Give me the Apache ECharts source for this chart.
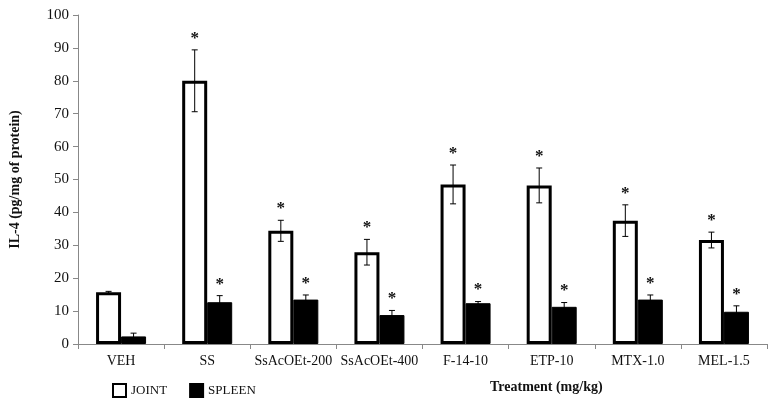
<!DOCTYPE html>
<html><head><meta charset="utf-8">
<script src="https://cdn.jsdelivr.net/npm/echarts@6/dist/echarts.min.js"></script>
<style>html,body{margin:0;padding:0;background:#fff}#c{width:775px;height:405px}</style>
</head><body><div id="c"></div>
<script>
const categories = ['VEH','SS','SsAcOEt-200','SsAcOEt-400','F-14-10','ETP-10','MTX-1.0','MEL-1.5'];
const joint = [15.7, 80.0, 34.4, 27.9, 48.5, 48.2, 37.5, 31.6];
const jointErr = [0.3, 9.4, 3.2, 3.9, 5.9, 5.3, 4.8, 2.4];
const spleen = [2.3, 12.7, 13.5, 8.8, 12.4, 11.3, 13.5, 9.8];
const spleenErr = [1.0, 2.0, 1.4, 1.4, 0.5, 1.3, 1.4, 1.8];
const jointSig = [false, true, true, true, true, true, true, true];
const spleenSig = [false, true, true, true, true, true, true, true];
const yTicks = [0,10,20,30,40,50,60,70,80,90,100];

const BW = 25;
const font = 'Liberation Serif';
function errSeries(vals, errs, sig, offset) {
  return {
    type: 'custom', silent: true, z: 5,
    data: vals.map((v, i) => [i, v, errs[i], sig[i] ? 1 : 0]),
    renderItem: function (params, api) {
      const i = api.value(0), v = api.value(1), e = api.value(2), s = api.value(3);
      const top = api.coord([i, v + e]);
      const bot = api.coord([i, v - e]);
      const x = top[0] + offset;
      const children = [
        {type:'line', shape:{x1:x, y1:top[1], x2:x, y2:bot[1]}, style:{stroke:'#000', lineWidth:1}},
        {type:'line', shape:{x1:x-3, y1:top[1], x2:x+3, y2:top[1]}, style:{stroke:'#000', lineWidth:1}},
        {type:'line', shape:{x1:x-3, y1:bot[1], x2:x+3, y2:bot[1]}, style:{stroke:'#000', lineWidth:1}}
      ];
      if (s) children.push({type:'text', style:{text:'*', x:x, y:top[1]-3, textAlign:'center', textVerticalAlign:'bottom', font:'bold 17px "Liberation Serif"', fill:'#111'}});
      return {type:'group', children};
    }
  };
}
const chart = echarts.init(document.getElementById('c'));
chart.setOption({
  animation: false,
  textStyle: {fontFamily: font},
  grid: {left: 77, right: 8, top: 15, bottom: 61},
  legend: {
    left: 107, top: 378, itemWidth: 13, itemHeight: 13, itemGap: 22,
    icon: 'rect',
    textStyle: {fontFamily: font, fontSize: 13, color: '#111'},
    data: ['JOINT', 'SPLEEN']
  },
  xAxis: {
    type: 'category', data: categories,
    axisLine: {lineStyle: {color: '#888'}},
    axisTick: {show: true, length: 5, lineStyle: {color: '#888'}},
    axisLabel: {fontFamily: font, fontSize: 14, color: '#111', margin: 10, interval: 0}
  },
  yAxis: {
    type: 'value', min: 0, max: 100, interval: 10,
    name: 'IL-4 (pg/mg of protein)', nameLocation: 'middle', nameRotate: 90, nameGap: 56,
    nameTextStyle: {fontFamily: font, fontSize: 14, fontWeight: 'bold', color: '#111'},
    axisLine: {show: true, lineStyle: {color: '#888'}},
    axisTick: {show: true, length: 5, lineStyle: {color: '#888'}},
    splitLine: {show: false},
    axisLabel: {fontFamily: font, fontSize: 15, color: '#111', margin: 9,
      formatter: v => yTicks.includes(v) ? String(v) : ''}
  },
  graphic: [{type: 'text', left: 490, top: 380,
    style: {text: 'Treatment (mg/kg)', font: 'bold 14px "Liberation Serif"', fill: '#111'}}],
  series: [
    {name: 'JOINT', type: 'bar', data: joint, barWidth: BW, barGap: '0%',
      itemStyle: {color: '#fff', borderColor: '#000', borderWidth: 3}},
    {name: 'SPLEEN', type: 'bar', data: spleen, barWidth: BW, barGap: '0%',
      itemStyle: {color: '#000', borderColor: '#000', borderWidth: 1}},
    errSeries(joint, jointErr, jointSig, -BW/2),
    errSeries(spleen, spleenErr, spleenSig, BW/2)
  ]
});
</script></body></html>
